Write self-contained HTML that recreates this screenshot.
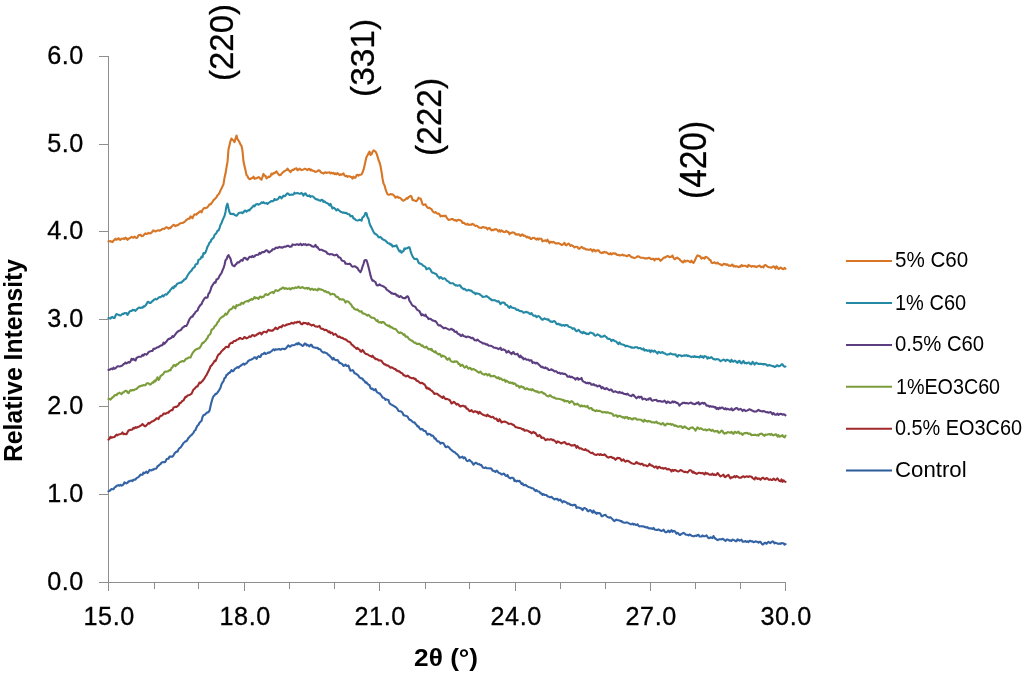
<!DOCTYPE html>
<html><head><meta charset="utf-8"><style>
html,body{margin:0;padding:0;background:#fff;}
body{width:1024px;height:673px;overflow:hidden;}
svg{display:block;will-change:transform;}
text{font-family:"Liberation Sans",sans-serif;fill:#000;stroke:#000;stroke-width:0.3px;}
</style></head><body>
<svg width="1024" height="673" viewBox="0 0 1024 673">
<rect width="1024" height="673" fill="#fff"/>
<g stroke="#8e8e8e" stroke-width="1" fill="none" shape-rendering="crispEdges">
<line x1="108.5" y1="56.5" x2="108.5" y2="590.5"/>
<line x1="98.5" y1="582.5" x2="786.0" y2="582.5"/>
<line x1="98.5" y1="494.5" x2="108.5" y2="494.5"/>
<line x1="98.5" y1="406.5" x2="108.5" y2="406.5"/>
<line x1="98.5" y1="319.5" x2="108.5" y2="319.5"/>
<line x1="98.5" y1="231.5" x2="108.5" y2="231.5"/>
<line x1="98.5" y1="144.5" x2="108.5" y2="144.5"/>
<line x1="98.5" y1="56.5" x2="108.5" y2="56.5"/>
<line x1="154.5" y1="582.5" x2="154.5" y2="588.5"/>
<line x1="198.5" y1="582.5" x2="198.5" y2="588.5"/>
<line x1="244.5" y1="582.5" x2="244.5" y2="590.5"/>
<line x1="289.5" y1="582.5" x2="289.5" y2="588.5"/>
<line x1="334.5" y1="582.5" x2="334.5" y2="588.5"/>
<line x1="379.5" y1="582.5" x2="379.5" y2="590.5"/>
<line x1="425.5" y1="582.5" x2="425.5" y2="588.5"/>
<line x1="469.5" y1="582.5" x2="469.5" y2="588.5"/>
<line x1="515.5" y1="582.5" x2="515.5" y2="590.5"/>
<line x1="560.5" y1="582.5" x2="560.5" y2="588.5"/>
<line x1="605.5" y1="582.5" x2="605.5" y2="588.5"/>
<line x1="650.5" y1="582.5" x2="650.5" y2="590.5"/>
<line x1="695.5" y1="582.5" x2="695.5" y2="588.5"/>
<line x1="740.5" y1="582.5" x2="740.5" y2="588.5"/>
<line x1="785.5" y1="582.5" x2="785.5" y2="590.5"/>
</g>
<g fill="none" stroke-width="2.1" stroke-linejoin="round" stroke-linecap="round">
<path d="M108.5,491.3 L109.5,490.9 L110.5,490.1 L111.5,489.0 L112.5,489.2 L113.5,489.2 L114.5,487.4 L115.5,487.1 L116.5,485.8 L117.5,485.6 L118.5,485.1 L119.5,485.7 L120.5,484.9 L121.5,485.6 L122.5,485.3 L123.5,484.2 L124.5,482.3 L125.5,483.1 L126.5,483.4 L127.5,482.9 L128.5,481.3 L129.5,481.4 L130.5,480.7 L131.5,480.5 L132.5,481.2 L133.5,479.7 L134.5,479.6 L135.5,479.6 L136.5,478.1 L137.5,477.6 L138.5,477.1 L139.5,476.1 L140.5,474.5 L141.5,474.8 L142.5,474.8 L143.5,472.5 L144.5,473.2 L145.5,472.4 L146.5,471.7 L147.5,473.0 L148.5,471.8 L149.5,469.9 L150.5,470.3 L151.5,470.4 L152.5,469.6 L153.5,469.6 L154.5,468.7 L155.5,468.7 L156.5,468.4 L157.5,466.3 L158.5,465.8 L159.5,464.7 L160.5,464.1 L161.5,462.6 L162.5,462.2 L163.5,462.0 L164.5,462.3 L165.5,461.6 L166.5,459.2 L167.5,458.7 L168.5,458.8 L169.5,456.5 L170.5,456.6 L171.5,456.5 L172.5,456.6 L173.5,455.3 L174.5,453.5 L175.5,452.3 L176.5,451.6 L177.5,451.7 L178.5,449.4 L179.5,448.2 L180.5,447.6 L181.5,446.2 L182.5,444.7 L183.5,442.9 L184.5,442.4 L185.5,441.2 L186.5,441.1 L187.5,439.6 L188.5,437.9 L189.5,437.0 L190.5,435.5 L191.5,435.3 L192.5,433.7 L193.5,432.8 L194.5,430.6 L195.5,430.1 L196.5,427.4 L197.5,425.5 L198.5,424.8 L199.5,422.7 L200.5,421.7 L201.5,421.0 L202.5,417.0 L203.5,415.2 L204.5,414.7 L205.5,414.2 L206.5,413.0 L207.5,412.4 L208.5,412.2 L209.5,410.7 L210.5,406.2 L211.5,402.1 L212.5,398.7 L213.5,396.2 L214.5,395.4 L215.5,393.8 L216.5,393.9 L217.5,392.5 L218.5,391.2 L219.5,389.4 L220.5,387.8 L221.5,384.3 L222.5,382.5 L223.5,381.2 L224.5,378.0 L225.5,377.7 L226.5,374.8 L227.5,374.7 L228.5,373.0 L229.5,373.0 L230.5,371.7 L231.5,370.0 L232.5,371.3 L233.5,371.0 L234.5,369.3 L235.5,368.4 L236.5,367.8 L237.5,367.0 L238.5,367.8 L239.5,366.4 L240.5,366.0 L241.5,365.0 L242.5,364.4 L243.5,363.7 L244.5,364.7 L245.5,363.5 L246.5,363.4 L247.5,362.0 L248.5,360.7 L249.5,360.3 L250.5,359.7 L251.5,359.5 L252.5,358.9 L253.5,358.4 L254.5,357.3 L255.5,357.6 L256.5,358.9 L257.5,357.0 L258.5,356.2 L259.5,356.9 L260.5,356.9 L261.5,354.3 L262.5,354.3 L263.5,353.6 L264.5,352.7 L265.5,354.0 L266.5,353.5 L267.5,353.1 L268.5,352.4 L269.5,352.7 L270.5,351.8 L271.5,351.4 L272.5,350.0 L273.5,349.3 L274.5,350.4 L275.5,349.3 L276.5,349.6 L277.5,349.5 L278.5,349.1 L279.5,349.1 L280.5,349.8 L281.5,349.1 L282.5,348.8 L283.5,348.8 L284.5,349.3 L285.5,348.6 L286.5,347.7 L287.5,346.3 L288.5,345.4 L289.5,346.7 L290.5,346.5 L291.5,345.4 L292.5,345.3 L293.5,345.2 L294.5,344.9 L295.5,344.5 L296.5,343.5 L297.5,344.4 L298.5,342.9 L299.5,344.2 L300.5,344.4 L301.5,345.0 L302.5,345.9 L303.5,345.6 L304.5,343.6 L305.5,343.5 L306.5,345.3 L307.5,344.7 L308.5,345.6 L309.5,346.4 L310.5,344.8 L311.5,344.7 L312.5,346.8 L313.5,347.3 L314.5,347.5 L315.5,347.9 L316.5,347.7 L317.5,347.7 L318.5,349.1 L319.5,349.1 L320.5,349.4 L321.5,351.4 L322.5,351.9 L323.5,352.6 L324.5,352.2 L325.5,352.7 L326.5,353.1 L327.5,353.9 L328.5,355.2 L329.5,355.4 L330.5,356.8 L331.5,357.8 L332.5,359.3 L333.5,357.9 L334.5,359.6 L335.5,359.9 L336.5,360.2 L337.5,359.9 L338.5,361.3 L339.5,362.9 L340.5,363.1 L341.5,363.7 L342.5,364.4 L343.5,365.9 L344.5,365.6 L345.5,364.6 L346.5,366.0 L347.5,365.7 L348.5,365.6 L349.5,368.5 L350.5,370.8 L351.5,370.5 L352.5,370.1 L353.5,371.1 L354.5,373.3 L355.5,373.5 L356.5,374.1 L357.5,374.8 L358.5,375.8 L359.5,377.3 L360.5,378.0 L361.5,378.5 L362.5,378.6 L363.5,380.4 L364.5,380.9 L365.5,382.7 L366.5,382.3 L367.5,383.8 L368.5,384.8 L369.5,385.1 L370.5,388.2 L371.5,389.0 L372.5,388.5 L373.5,389.9 L374.5,390.2 L375.5,389.0 L376.5,391.5 L377.5,392.5 L378.5,393.2 L379.5,393.2 L380.5,394.5 L381.5,395.7 L382.5,397.4 L383.5,397.7 L384.5,398.3 L385.5,399.9 L386.5,399.4 L387.5,399.8 L388.5,400.1 L389.5,403.2 L390.5,404.1 L391.5,404.7 L392.5,405.3 L393.5,405.7 L394.5,406.5 L395.5,407.0 L396.5,407.8 L397.5,409.1 L398.5,411.0 L399.5,411.2 L400.5,411.3 L401.5,411.7 L402.5,412.7 L403.5,415.2 L404.5,415.4 L405.5,415.8 L406.5,416.1 L407.5,416.5 L408.5,418.3 L409.5,419.8 L410.5,419.9 L411.5,420.7 L412.5,421.7 L413.5,422.5 L414.5,422.3 L415.5,423.9 L416.5,424.7 L417.5,426.5 L418.5,426.4 L419.5,428.1 L420.5,429.5 L421.5,428.9 L422.5,429.2 L423.5,430.5 L424.5,431.0 L425.5,431.1 L426.5,433.0 L427.5,434.7 L428.5,433.9 L429.5,434.1 L430.5,434.4 L431.5,435.8 L432.5,435.5 L433.5,436.4 L434.5,438.6 L435.5,438.3 L436.5,440.3 L437.5,441.4 L438.5,441.3 L439.5,442.2 L440.5,443.7 L441.5,442.9 L442.5,442.9 L443.5,443.2 L444.5,445.0 L445.5,447.0 L446.5,447.2 L447.5,446.4 L448.5,446.9 L449.5,448.0 L450.5,449.4 L451.5,449.9 L452.5,450.9 L453.5,451.7 L454.5,452.0 L455.5,453.0 L456.5,453.9 L457.5,454.5 L458.5,455.9 L459.5,457.6 L460.5,457.4 L461.5,457.2 L462.5,456.7 L463.5,458.3 L464.5,457.4 L465.5,458.3 L466.5,460.6 L467.5,461.1 L468.5,460.6 L469.5,459.9 L470.5,461.1 L471.5,461.6 L472.5,463.2 L473.5,464.7 L474.5,463.6 L475.5,462.8 L476.5,462.9 L477.5,464.0 L478.5,464.3 L479.5,464.1 L480.5,465.2 L481.5,465.1 L482.5,467.1 L483.5,467.8 L484.5,468.0 L485.5,467.3 L486.5,468.2 L487.5,468.2 L488.5,468.3 L489.5,468.5 L490.5,468.2 L491.5,468.7 L492.5,470.6 L493.5,470.7 L494.5,471.3 L495.5,472.0 L496.5,470.5 L497.5,471.4 L498.5,472.7 L499.5,473.3 L500.5,473.3 L501.5,474.5 L502.5,474.3 L503.5,473.5 L504.5,474.1 L505.5,475.8 L506.5,475.9 L507.5,474.9 L508.5,477.3 L509.5,477.8 L510.5,478.4 L511.5,477.7 L512.5,477.8 L513.5,478.2 L514.5,481.1 L515.5,480.3 L516.5,481.5 L517.5,480.7 L518.5,481.3 L519.5,480.8 L520.5,482.3 L521.5,483.9 L522.5,483.3 L523.5,485.2 L524.5,485.3 L525.5,484.8 L526.5,485.6 L527.5,486.3 L528.5,487.0 L529.5,487.2 L530.5,487.5 L531.5,488.2 L532.5,488.2 L533.5,488.6 L534.5,490.1 L535.5,491.1 L536.5,490.1 L537.5,491.3 L538.5,491.5 L539.5,491.8 L540.5,493.5 L541.5,493.4 L542.5,494.9 L543.5,494.0 L544.5,494.9 L545.5,495.0 L546.5,495.1 L547.5,496.4 L548.5,496.5 L549.5,497.3 L550.5,497.2 L551.5,496.8 L552.5,497.9 L553.5,498.7 L554.5,499.5 L555.5,498.7 L556.5,499.3 L557.5,498.8 L558.5,500.5 L559.5,499.8 L560.5,499.6 L561.5,501.4 L562.5,502.5 L563.5,501.1 L564.5,501.5 L565.5,502.1 L566.5,502.4 L567.5,503.7 L568.5,503.4 L569.5,503.8 L570.5,505.0 L571.5,504.7 L572.5,505.5 L573.5,504.9 L574.5,504.8 L575.5,505.1 L576.5,507.9 L577.5,507.2 L578.5,507.6 L579.5,507.8 L580.5,508.3 L581.5,508.8 L582.5,510.1 L583.5,508.4 L584.5,508.0 L585.5,508.6 L586.5,509.0 L587.5,510.9 L588.5,511.4 L589.5,510.3 L590.5,510.1 L591.5,511.5 L592.5,512.7 L593.5,510.5 L594.5,512.5 L595.5,512.4 L596.5,513.8 L597.5,512.9 L598.5,513.4 L599.5,513.0 L600.5,513.9 L601.5,516.1 L602.5,516.1 L603.5,515.4 L604.5,515.0 L605.5,514.8 L606.5,516.2 L607.5,517.0 L608.5,517.4 L609.5,517.6 L610.5,517.3 L611.5,518.3 L612.5,519.1 L613.5,520.5 L614.5,521.2 L615.5,520.0 L616.5,519.6 L617.5,520.3 L618.5,520.3 L619.5,520.5 L620.5,521.1 L621.5,521.0 L622.5,522.3 L623.5,522.4 L624.5,522.7 L625.5,522.7 L626.5,522.4 L627.5,522.5 L628.5,523.3 L629.5,523.5 L630.5,524.3 L631.5,524.3 L632.5,523.6 L633.5,524.6 L634.5,524.0 L635.5,524.7 L636.5,525.0 L637.5,524.2 L638.5,525.8 L639.5,526.4 L640.5,526.3 L641.5,526.3 L642.5,526.4 L643.5,526.3 L644.5,526.9 L645.5,527.1 L646.5,527.6 L647.5,527.1 L648.5,528.2 L649.5,528.4 L650.5,528.4 L651.5,528.4 L652.5,529.0 L653.5,527.9 L654.5,529.4 L655.5,529.7 L656.5,529.9 L657.5,530.0 L658.5,529.4 L659.5,529.9 L660.5,530.8 L661.5,530.9 L662.5,530.6 L663.5,529.7 L664.5,531.2 L665.5,532.2 L666.5,532.2 L667.5,531.4 L668.5,530.5 L669.5,532.1 L670.5,531.5 L671.5,530.0 L672.5,531.8 L673.5,531.0 L674.5,531.1 L675.5,532.1 L676.5,533.6 L677.5,532.9 L678.5,533.5 L679.5,534.9 L680.5,534.9 L681.5,533.7 L682.5,533.4 L683.5,532.8 L684.5,533.4 L685.5,534.5 L686.5,534.8 L687.5,534.8 L688.5,535.4 L689.5,534.4 L690.5,534.9 L691.5,535.8 L692.5,536.0 L693.5,536.4 L694.5,536.0 L695.5,535.6 L696.5,536.0 L697.5,535.0 L698.5,534.8 L699.5,536.5 L700.5,536.5 L701.5,536.5 L702.5,535.4 L703.5,536.2 L704.5,536.3 L705.5,536.0 L706.5,535.3 L707.5,536.9 L708.5,538.2 L709.5,537.9 L710.5,537.3 L711.5,537.8 L712.5,538.1 L713.5,536.0 L714.5,537.7 L715.5,538.8 L716.5,539.2 L717.5,540.1 L718.5,539.8 L719.5,539.2 L720.5,539.2 L721.5,539.5 L722.5,538.7 L723.5,539.2 L724.5,540.2 L725.5,541.0 L726.5,539.6 L727.5,539.5 L728.5,540.0 L729.5,540.8 L730.5,540.3 L731.5,541.0 L732.5,539.5 L733.5,539.9 L734.5,540.2 L735.5,541.1 L736.5,541.1 L737.5,539.4 L738.5,539.7 L739.5,540.7 L740.5,540.1 L741.5,539.7 L742.5,541.6 L743.5,541.6 L744.5,541.5 L745.5,541.0 L746.5,541.9 L747.5,541.4 L748.5,542.1 L749.5,540.8 L750.5,540.8 L751.5,541.5 L752.5,541.2 L753.5,542.2 L754.5,542.0 L755.5,541.2 L756.5,541.8 L757.5,541.9 L758.5,542.6 L759.5,541.7 L760.5,541.9 L761.5,543.4 L762.5,544.5 L763.5,544.2 L764.5,542.8 L765.5,542.9 L766.5,543.8 L767.5,542.6 L768.5,541.9 L769.5,542.8 L770.5,543.1 L771.5,542.1 L772.5,541.4 L773.5,541.8 L774.5,543.3 L775.5,542.7 L776.5,543.1 L777.5,543.6 L778.5,543.9 L779.5,543.5 L780.5,543.9 L781.5,543.1 L782.5,543.3 L783.5,543.2 L784.5,544.7 L785.5,544.1" stroke="#3363a5"/>
<path d="M108.5,439.6 L109.5,438.8 L110.5,436.8 L111.5,437.8 L112.5,437.3 L113.5,437.2 L114.5,437.0 L115.5,435.7 L116.5,434.6 L117.5,435.3 L118.5,434.5 L119.5,434.3 L120.5,434.0 L121.5,433.6 L122.5,432.4 L123.5,434.2 L124.5,433.8 L125.5,434.1 L126.5,434.2 L127.5,432.3 L128.5,430.4 L129.5,430.3 L130.5,429.8 L131.5,429.7 L132.5,429.4 L133.5,427.8 L134.5,428.4 L135.5,427.2 L136.5,427.7 L137.5,427.3 L138.5,426.7 L139.5,426.4 L140.5,425.7 L141.5,425.1 L142.5,424.1 L143.5,425.0 L144.5,426.2 L145.5,426.1 L146.5,425.2 L147.5,424.1 L148.5,422.9 L149.5,423.7 L150.5,422.5 L151.5,421.8 L152.5,421.3 L153.5,421.0 L154.5,420.1 L155.5,419.5 L156.5,418.2 L157.5,418.2 L158.5,419.1 L159.5,417.0 L160.5,415.9 L161.5,415.8 L162.5,415.2 L163.5,413.5 L164.5,413.5 L165.5,413.9 L166.5,413.1 L167.5,412.6 L168.5,412.8 L169.5,411.1 L170.5,410.7 L171.5,410.0 L172.5,410.2 L173.5,407.5 L174.5,407.2 L175.5,406.8 L176.5,406.9 L177.5,406.2 L178.5,405.5 L179.5,403.0 L180.5,403.2 L181.5,401.9 L182.5,400.8 L183.5,400.5 L184.5,398.6 L185.5,396.9 L186.5,396.9 L187.5,395.5 L188.5,395.2 L189.5,395.0 L190.5,394.3 L191.5,393.9 L192.5,391.6 L193.5,389.5 L194.5,388.8 L195.5,387.6 L196.5,386.5 L197.5,386.4 L198.5,384.5 L199.5,382.5 L200.5,383.1 L201.5,381.9 L202.5,381.0 L203.5,379.7 L204.5,378.4 L205.5,376.4 L206.5,375.2 L207.5,372.9 L208.5,371.0 L209.5,369.1 L210.5,366.4 L211.5,365.5 L212.5,364.2 L213.5,362.9 L214.5,360.9 L215.5,361.1 L216.5,358.9 L217.5,356.2 L218.5,354.5 L219.5,354.0 L220.5,352.9 L221.5,351.3 L222.5,350.5 L223.5,349.2 L224.5,348.8 L225.5,347.2 L226.5,346.8 L227.5,347.1 L228.5,347.1 L229.5,344.2 L230.5,343.3 L231.5,342.7 L232.5,342.9 L233.5,341.3 L234.5,341.0 L235.5,340.9 L236.5,339.9 L237.5,339.5 L238.5,339.3 L239.5,338.0 L240.5,338.1 L241.5,338.8 L242.5,339.0 L243.5,338.3 L244.5,337.0 L245.5,337.6 L246.5,338.4 L247.5,338.0 L248.5,337.2 L249.5,336.4 L250.5,336.9 L251.5,335.9 L252.5,335.0 L253.5,335.2 L254.5,336.2 L255.5,335.3 L256.5,335.1 L257.5,333.8 L258.5,333.9 L259.5,332.7 L260.5,332.9 L261.5,334.4 L262.5,333.1 L263.5,331.8 L264.5,331.8 L265.5,332.1 L266.5,332.4 L267.5,330.9 L268.5,329.8 L269.5,330.4 L270.5,330.6 L271.5,330.5 L272.5,330.8 L273.5,329.7 L274.5,329.1 L275.5,327.6 L276.5,328.6 L277.5,329.2 L278.5,328.0 L279.5,327.1 L280.5,326.8 L281.5,327.3 L282.5,325.4 L283.5,325.4 L284.5,325.7 L285.5,325.5 L286.5,324.6 L287.5,324.6 L288.5,324.1 L289.5,324.1 L290.5,323.6 L291.5,322.8 L292.5,323.3 L293.5,323.6 L294.5,322.3 L295.5,322.5 L296.5,322.8 L297.5,321.7 L298.5,322.1 L299.5,321.6 L300.5,323.2 L301.5,324.3 L302.5,324.1 L303.5,322.7 L304.5,323.1 L305.5,323.0 L306.5,323.4 L307.5,324.3 L308.5,323.0 L309.5,324.5 L310.5,324.5 L311.5,325.6 L312.5,325.1 L313.5,324.8 L314.5,325.8 L315.5,326.5 L316.5,326.5 L317.5,326.9 L318.5,326.4 L319.5,325.9 L320.5,328.2 L321.5,328.8 L322.5,328.8 L323.5,329.3 L324.5,330.2 L325.5,329.8 L326.5,330.0 L327.5,331.0 L328.5,332.2 L329.5,331.4 L330.5,333.2 L331.5,332.6 L332.5,332.9 L333.5,334.8 L334.5,334.4 L335.5,333.9 L336.5,335.0 L337.5,336.5 L338.5,337.0 L339.5,336.5 L340.5,337.4 L341.5,338.0 L342.5,337.8 L343.5,338.8 L344.5,339.2 L345.5,339.4 L346.5,340.0 L347.5,341.1 L348.5,341.7 L349.5,341.9 L350.5,342.8 L351.5,344.5 L352.5,345.0 L353.5,346.1 L354.5,347.1 L355.5,347.6 L356.5,349.0 L357.5,347.9 L358.5,349.1 L359.5,349.5 L360.5,351.4 L361.5,351.7 L362.5,349.9 L363.5,350.9 L364.5,352.8 L365.5,353.7 L366.5,354.1 L367.5,354.2 L368.5,355.0 L369.5,355.7 L370.5,356.0 L371.5,356.8 L372.5,355.6 L373.5,357.5 L374.5,357.6 L375.5,359.2 L376.5,359.1 L377.5,359.2 L378.5,360.4 L379.5,360.2 L380.5,360.5 L381.5,360.8 L382.5,362.4 L383.5,363.6 L384.5,364.4 L385.5,364.4 L386.5,365.5 L387.5,365.4 L388.5,365.8 L389.5,366.9 L390.5,367.7 L391.5,367.3 L392.5,367.7 L393.5,368.4 L394.5,369.0 L395.5,369.1 L396.5,370.7 L397.5,370.6 L398.5,371.4 L399.5,371.3 L400.5,372.5 L401.5,373.1 L402.5,373.4 L403.5,375.3 L404.5,375.2 L405.5,376.4 L406.5,376.3 L407.5,375.6 L408.5,376.2 L409.5,377.3 L410.5,377.7 L411.5,378.1 L412.5,378.2 L413.5,377.9 L414.5,379.1 L415.5,378.8 L416.5,380.8 L417.5,380.9 L418.5,381.5 L419.5,382.5 L420.5,383.3 L421.5,382.8 L422.5,383.1 L423.5,384.1 L424.5,384.3 L425.5,386.0 L426.5,388.3 L427.5,387.7 L428.5,389.0 L429.5,388.6 L430.5,390.1 L431.5,390.6 L432.5,391.4 L433.5,392.7 L434.5,394.0 L435.5,393.6 L436.5,393.8 L437.5,393.8 L438.5,395.2 L439.5,395.5 L440.5,396.6 L441.5,396.9 L442.5,398.0 L443.5,396.4 L444.5,397.8 L445.5,399.2 L446.5,398.9 L447.5,399.0 L448.5,399.7 L449.5,399.7 L450.5,401.4 L451.5,403.5 L452.5,403.1 L453.5,401.8 L454.5,402.2 L455.5,403.3 L456.5,404.6 L457.5,403.9 L458.5,404.4 L459.5,406.0 L460.5,406.5 L461.5,406.0 L462.5,405.7 L463.5,405.8 L464.5,406.6 L465.5,406.4 L466.5,408.6 L467.5,408.6 L468.5,409.8 L469.5,411.2 L470.5,411.0 L471.5,410.0 L472.5,411.5 L473.5,412.2 L474.5,411.2 L475.5,411.3 L476.5,412.1 L477.5,411.9 L478.5,413.7 L479.5,411.9 L480.5,412.8 L481.5,413.9 L482.5,414.4 L483.5,415.0 L484.5,415.4 L485.5,415.5 L486.5,416.2 L487.5,414.7 L488.5,415.9 L489.5,416.1 L490.5,416.9 L491.5,417.2 L492.5,416.8 L493.5,417.3 L494.5,418.6 L495.5,418.7 L496.5,418.6 L497.5,420.8 L498.5,421.2 L499.5,419.2 L500.5,420.6 L501.5,422.5 L502.5,421.9 L503.5,421.7 L504.5,421.6 L505.5,421.8 L506.5,422.4 L507.5,422.8 L508.5,423.9 L509.5,423.7 L510.5,423.8 L511.5,423.8 L512.5,424.8 L513.5,424.9 L514.5,425.8 L515.5,427.1 L516.5,427.2 L517.5,427.6 L518.5,427.9 L519.5,428.0 L520.5,428.2 L521.5,428.6 L522.5,429.5 L523.5,429.1 L524.5,430.8 L525.5,430.5 L526.5,430.2 L527.5,430.6 L528.5,431.1 L529.5,431.9 L530.5,432.1 L531.5,433.4 L532.5,432.5 L533.5,431.8 L534.5,433.0 L535.5,432.9 L536.5,434.7 L537.5,436.1 L538.5,436.1 L539.5,435.1 L540.5,436.0 L541.5,438.0 L542.5,437.6 L543.5,437.7 L544.5,438.9 L545.5,440.2 L546.5,439.8 L547.5,439.1 L548.5,439.5 L549.5,439.8 L550.5,439.2 L551.5,439.2 L552.5,440.1 L553.5,439.9 L554.5,440.7 L555.5,441.5 L556.5,443.0 L557.5,441.4 L558.5,441.8 L559.5,442.2 L560.5,443.0 L561.5,443.5 L562.5,442.7 L563.5,442.4 L564.5,442.1 L565.5,442.9 L566.5,444.2 L567.5,444.2 L568.5,443.7 L569.5,444.3 L570.5,445.0 L571.5,445.6 L572.5,445.2 L573.5,445.4 L574.5,444.8 L575.5,445.8 L576.5,447.8 L577.5,446.1 L578.5,447.5 L579.5,448.5 L580.5,448.4 L581.5,448.5 L582.5,449.4 L583.5,449.8 L584.5,449.9 L585.5,449.2 L586.5,450.4 L587.5,450.5 L588.5,451.0 L589.5,452.0 L590.5,452.7 L591.5,453.1 L592.5,452.6 L593.5,453.8 L594.5,454.4 L595.5,454.7 L596.5,455.0 L597.5,454.2 L598.5,454.3 L599.5,455.0 L600.5,454.0 L601.5,455.0 L602.5,455.0 L603.5,455.0 L604.5,454.4 L605.5,455.2 L606.5,456.3 L607.5,457.3 L608.5,457.6 L609.5,457.0 L610.5,457.0 L611.5,456.9 L612.5,457.9 L613.5,457.9 L614.5,458.8 L615.5,459.8 L616.5,458.7 L617.5,457.7 L618.5,458.2 L619.5,458.1 L620.5,458.8 L621.5,460.7 L622.5,460.3 L623.5,459.4 L624.5,461.0 L625.5,461.7 L626.5,460.9 L627.5,460.7 L628.5,461.2 L629.5,461.9 L630.5,462.5 L631.5,463.2 L632.5,463.5 L633.5,463.7 L634.5,463.9 L635.5,463.3 L636.5,462.0 L637.5,463.0 L638.5,463.6 L639.5,463.5 L640.5,464.4 L641.5,463.8 L642.5,463.7 L643.5,465.4 L644.5,465.3 L645.5,465.2 L646.5,465.9 L647.5,466.2 L648.5,465.5 L649.5,463.9 L650.5,465.0 L651.5,465.6 L652.5,465.6 L653.5,466.7 L654.5,467.5 L655.5,466.6 L656.5,466.5 L657.5,468.5 L658.5,467.3 L659.5,466.8 L660.5,467.9 L661.5,468.3 L662.5,467.9 L663.5,468.8 L664.5,468.2 L665.5,468.0 L666.5,469.0 L667.5,469.5 L668.5,468.9 L669.5,469.5 L670.5,469.9 L671.5,471.5 L672.5,469.8 L673.5,470.8 L674.5,470.1 L675.5,470.1 L676.5,470.8 L677.5,471.2 L678.5,471.5 L679.5,470.8 L680.5,470.1 L681.5,470.3 L682.5,471.1 L683.5,471.5 L684.5,472.1 L685.5,471.7 L686.5,472.1 L687.5,472.5 L688.5,471.4 L689.5,470.2 L690.5,470.3 L691.5,470.7 L692.5,472.6 L693.5,471.7 L694.5,473.0 L695.5,473.1 L696.5,473.9 L697.5,473.5 L698.5,472.8 L699.5,472.7 L700.5,473.1 L701.5,473.2 L702.5,472.9 L703.5,473.6 L704.5,474.5 L705.5,472.7 L706.5,473.6 L707.5,473.3 L708.5,474.1 L709.5,474.7 L710.5,474.4 L711.5,474.7 L712.5,473.6 L713.5,475.0 L714.5,474.4 L715.5,475.1 L716.5,474.7 L717.5,473.0 L718.5,474.2 L719.5,475.4 L720.5,476.4 L721.5,475.8 L722.5,475.4 L723.5,474.7 L724.5,476.7 L725.5,477.2 L726.5,476.0 L727.5,475.5 L728.5,474.9 L729.5,476.9 L730.5,478.3 L731.5,477.3 L732.5,477.5 L733.5,476.9 L734.5,476.1 L735.5,477.3 L736.5,476.0 L737.5,476.6 L738.5,477.2 L739.5,477.7 L740.5,477.6 L741.5,477.4 L742.5,476.6 L743.5,476.3 L744.5,477.2 L745.5,476.8 L746.5,476.4 L747.5,476.5 L748.5,477.0 L749.5,476.3 L750.5,476.5 L751.5,476.7 L752.5,478.0 L753.5,478.7 L754.5,479.5 L755.5,477.4 L756.5,477.8 L757.5,479.0 L758.5,478.5 L759.5,478.6 L760.5,479.8 L761.5,478.6 L762.5,477.8 L763.5,477.9 L764.5,479.1 L765.5,479.1 L766.5,478.1 L767.5,478.4 L768.5,479.6 L769.5,479.8 L770.5,479.2 L771.5,480.0 L772.5,479.9 L773.5,478.5 L774.5,479.4 L775.5,480.1 L776.5,479.3 L777.5,478.4 L778.5,479.8 L779.5,481.0 L780.5,481.3 L781.5,479.4 L782.5,481.9 L783.5,480.3 L784.5,481.4 L785.5,481.9" stroke="#a0292b"/>
<path d="M108.5,399.0 L109.5,398.8 L110.5,399.6 L111.5,398.6 L112.5,397.2 L113.5,397.1 L114.5,395.3 L115.5,395.1 L116.5,395.3 L117.5,393.6 L118.5,393.5 L119.5,392.7 L120.5,393.5 L121.5,394.2 L122.5,392.5 L123.5,392.4 L124.5,391.4 L125.5,390.8 L126.5,390.8 L127.5,392.6 L128.5,393.1 L129.5,391.4 L130.5,390.1 L131.5,390.6 L132.5,389.9 L133.5,390.2 L134.5,389.7 L135.5,389.3 L136.5,389.0 L137.5,387.8 L138.5,387.2 L139.5,386.1 L140.5,386.3 L141.5,385.5 L142.5,385.7 L143.5,385.0 L144.5,385.3 L145.5,385.1 L146.5,383.5 L147.5,383.3 L148.5,383.2 L149.5,384.2 L150.5,384.6 L151.5,383.5 L152.5,382.4 L153.5,382.6 L154.5,380.5 L155.5,381.4 L156.5,379.2 L157.5,377.3 L158.5,380.0 L159.5,378.7 L160.5,376.0 L161.5,375.5 L162.5,374.6 L163.5,373.7 L164.5,371.9 L165.5,371.6 L166.5,371.8 L167.5,371.2 L168.5,371.1 L169.5,370.0 L170.5,370.4 L171.5,367.9 L172.5,367.3 L173.5,365.3 L174.5,365.1 L175.5,366.2 L176.5,364.4 L177.5,364.5 L178.5,363.5 L179.5,362.2 L180.5,362.0 L181.5,361.4 L182.5,361.0 L183.5,361.5 L184.5,360.9 L185.5,359.4 L186.5,358.5 L187.5,358.5 L188.5,357.6 L189.5,357.5 L190.5,357.5 L191.5,355.2 L192.5,353.2 L193.5,351.9 L194.5,350.6 L195.5,349.7 L196.5,349.1 L197.5,348.9 L198.5,348.4 L199.5,348.2 L200.5,346.5 L201.5,344.8 L202.5,342.7 L203.5,343.0 L204.5,341.5 L205.5,340.8 L206.5,339.1 L207.5,338.0 L208.5,335.5 L209.5,334.7 L210.5,333.8 L211.5,329.7 L212.5,329.3 L213.5,328.5 L214.5,326.6 L215.5,325.6 L216.5,324.7 L217.5,322.4 L218.5,321.5 L219.5,319.4 L220.5,318.2 L221.5,317.3 L222.5,316.7 L223.5,316.2 L224.5,315.3 L225.5,313.5 L226.5,314.7 L227.5,313.3 L228.5,311.6 L229.5,309.9 L230.5,309.3 L231.5,309.1 L232.5,308.1 L233.5,306.3 L234.5,307.6 L235.5,308.3 L236.5,305.0 L237.5,305.8 L238.5,305.2 L239.5,304.5 L240.5,304.7 L241.5,302.8 L242.5,303.2 L243.5,303.7 L244.5,302.2 L245.5,301.5 L246.5,301.3 L247.5,300.9 L248.5,301.5 L249.5,299.8 L250.5,300.2 L251.5,298.8 L252.5,299.6 L253.5,298.8 L254.5,297.0 L255.5,298.3 L256.5,297.8 L257.5,298.1 L258.5,299.0 L259.5,296.9 L260.5,296.5 L261.5,297.7 L262.5,296.8 L263.5,297.0 L264.5,295.6 L265.5,294.2 L266.5,294.4 L267.5,295.0 L268.5,294.5 L269.5,293.4 L270.5,292.9 L271.5,292.4 L272.5,292.0 L273.5,293.2 L274.5,291.6 L275.5,290.2 L276.5,290.3 L277.5,291.0 L278.5,290.6 L279.5,289.7 L280.5,288.9 L281.5,288.9 L282.5,287.5 L283.5,287.6 L284.5,288.8 L285.5,288.1 L286.5,288.5 L287.5,289.0 L288.5,288.6 L289.5,288.2 L290.5,289.5 L291.5,288.6 L292.5,287.8 L293.5,288.4 L294.5,288.2 L295.5,287.3 L296.5,287.9 L297.5,287.6 L298.5,286.5 L299.5,287.7 L300.5,287.9 L301.5,287.6 L302.5,287.0 L303.5,287.9 L304.5,288.4 L305.5,288.4 L306.5,287.9 L307.5,288.8 L308.5,287.9 L309.5,288.7 L310.5,289.8 L311.5,288.7 L312.5,288.9 L313.5,290.0 L314.5,289.3 L315.5,289.4 L316.5,290.0 L317.5,290.4 L318.5,288.5 L319.5,289.2 L320.5,289.4 L321.5,289.6 L322.5,290.0 L323.5,290.4 L324.5,291.4 L325.5,291.1 L326.5,292.0 L327.5,292.5 L328.5,292.1 L329.5,293.2 L330.5,294.6 L331.5,294.1 L332.5,293.7 L333.5,294.3 L334.5,294.3 L335.5,295.8 L336.5,297.0 L337.5,296.7 L338.5,297.9 L339.5,299.4 L340.5,299.1 L341.5,299.6 L342.5,299.3 L343.5,299.6 L344.5,300.6 L345.5,302.6 L346.5,301.4 L347.5,301.4 L348.5,301.8 L349.5,302.8 L350.5,304.1 L351.5,305.1 L352.5,307.3 L353.5,307.6 L354.5,309.1 L355.5,309.4 L356.5,309.9 L357.5,309.3 L358.5,310.6 L359.5,311.4 L360.5,311.6 L361.5,311.1 L362.5,313.4 L363.5,313.4 L364.5,313.7 L365.5,314.3 L366.5,314.9 L367.5,315.6 L368.5,314.9 L369.5,315.6 L370.5,317.0 L371.5,317.6 L372.5,317.7 L373.5,317.9 L374.5,318.3 L375.5,319.6 L376.5,320.8 L377.5,320.2 L378.5,322.2 L379.5,322.4 L380.5,322.0 L381.5,323.0 L382.5,322.0 L383.5,322.1 L384.5,323.0 L385.5,324.3 L386.5,325.0 L387.5,325.5 L388.5,326.1 L389.5,325.5 L390.5,327.4 L391.5,327.0 L392.5,327.9 L393.5,328.6 L394.5,328.7 L395.5,329.0 L396.5,330.0 L397.5,331.4 L398.5,332.5 L399.5,333.0 L400.5,332.4 L401.5,332.9 L402.5,333.6 L403.5,334.9 L404.5,334.3 L405.5,336.7 L406.5,336.5 L407.5,336.8 L408.5,338.3 L409.5,339.5 L410.5,339.8 L411.5,340.7 L412.5,340.9 L413.5,342.2 L414.5,342.8 L415.5,342.6 L416.5,343.9 L417.5,343.8 L418.5,343.9 L419.5,343.8 L420.5,344.8 L421.5,345.9 L422.5,345.3 L423.5,346.9 L424.5,347.4 L425.5,347.5 L426.5,346.5 L427.5,348.2 L428.5,349.4 L429.5,349.0 L430.5,349.6 L431.5,348.8 L432.5,351.0 L433.5,351.2 L434.5,352.2 L435.5,351.3 L436.5,353.2 L437.5,353.5 L438.5,354.4 L439.5,353.8 L440.5,354.7 L441.5,356.9 L442.5,355.6 L443.5,355.9 L444.5,356.6 L445.5,356.9 L446.5,359.0 L447.5,359.8 L448.5,358.5 L449.5,358.3 L450.5,360.7 L451.5,361.5 L452.5,361.7 L453.5,362.1 L454.5,361.2 L455.5,361.7 L456.5,361.4 L457.5,362.0 L458.5,363.9 L459.5,363.9 L460.5,366.0 L461.5,365.1 L462.5,364.9 L463.5,366.4 L464.5,367.6 L465.5,366.9 L466.5,366.1 L467.5,367.6 L468.5,368.7 L469.5,367.9 L470.5,368.1 L471.5,369.6 L472.5,369.4 L473.5,368.9 L474.5,369.6 L475.5,370.0 L476.5,371.0 L477.5,371.6 L478.5,372.6 L479.5,372.5 L480.5,371.5 L481.5,373.0 L482.5,374.0 L483.5,374.2 L484.5,374.7 L485.5,373.9 L486.5,374.0 L487.5,375.4 L488.5,374.4 L489.5,374.2 L490.5,376.4 L491.5,376.0 L492.5,376.3 L493.5,375.9 L494.5,376.1 L495.5,376.7 L496.5,377.8 L497.5,378.3 L498.5,377.2 L499.5,379.1 L500.5,378.4 L501.5,378.8 L502.5,380.2 L503.5,380.0 L504.5,379.6 L505.5,381.8 L506.5,380.7 L507.5,381.4 L508.5,382.0 L509.5,383.0 L510.5,382.3 L511.5,383.2 L512.5,382.7 L513.5,384.0 L514.5,383.3 L515.5,384.0 L516.5,385.9 L517.5,385.5 L518.5,385.9 L519.5,387.6 L520.5,386.8 L521.5,386.3 L522.5,387.4 L523.5,387.0 L524.5,388.8 L525.5,389.3 L526.5,388.4 L527.5,388.6 L528.5,389.4 L529.5,389.6 L530.5,389.4 L531.5,390.3 L532.5,389.2 L533.5,390.3 L534.5,390.8 L535.5,391.3 L536.5,391.8 L537.5,391.3 L538.5,392.6 L539.5,392.5 L540.5,392.2 L541.5,391.9 L542.5,392.5 L543.5,393.7 L544.5,393.4 L545.5,394.4 L546.5,395.6 L547.5,396.1 L548.5,396.5 L549.5,395.4 L550.5,395.2 L551.5,396.8 L552.5,397.0 L553.5,397.7 L554.5,397.4 L555.5,398.4 L556.5,398.6 L557.5,398.7 L558.5,398.8 L559.5,399.0 L560.5,399.2 L561.5,399.5 L562.5,400.2 L563.5,399.8 L564.5,401.3 L565.5,400.7 L566.5,401.4 L567.5,401.0 L568.5,401.4 L569.5,403.0 L570.5,401.8 L571.5,401.1 L572.5,401.8 L573.5,402.8 L574.5,404.7 L575.5,404.0 L576.5,404.4 L577.5,403.6 L578.5,404.7 L579.5,405.6 L580.5,406.5 L581.5,405.3 L582.5,406.2 L583.5,406.3 L584.5,405.8 L585.5,406.7 L586.5,406.7 L587.5,405.9 L588.5,408.0 L589.5,408.6 L590.5,408.1 L591.5,408.0 L592.5,410.0 L593.5,409.9 L594.5,410.7 L595.5,411.1 L596.5,410.2 L597.5,411.0 L598.5,410.7 L599.5,410.9 L600.5,411.2 L601.5,411.6 L602.5,412.5 L603.5,412.2 L604.5,412.0 L605.5,412.2 L606.5,412.7 L607.5,412.2 L608.5,412.6 L609.5,413.1 L610.5,413.1 L611.5,413.5 L612.5,413.8 L613.5,415.8 L614.5,415.8 L615.5,415.2 L616.5,415.3 L617.5,416.9 L618.5,416.0 L619.5,415.7 L620.5,416.2 L621.5,416.6 L622.5,417.5 L623.5,417.1 L624.5,418.3 L625.5,416.9 L626.5,417.6 L627.5,417.2 L628.5,418.9 L629.5,418.0 L630.5,418.3 L631.5,419.3 L632.5,419.5 L633.5,418.2 L634.5,418.5 L635.5,418.2 L636.5,419.4 L637.5,419.6 L638.5,419.5 L639.5,419.5 L640.5,419.8 L641.5,419.9 L642.5,421.1 L643.5,421.7 L644.5,419.7 L645.5,420.7 L646.5,421.0 L647.5,421.6 L648.5,420.9 L649.5,421.4 L650.5,421.2 L651.5,422.4 L652.5,422.3 L653.5,422.3 L654.5,422.7 L655.5,422.3 L656.5,421.7 L657.5,423.2 L658.5,423.3 L659.5,423.3 L660.5,424.3 L661.5,424.4 L662.5,423.0 L663.5,423.4 L664.5,425.3 L665.5,425.4 L666.5,423.9 L667.5,423.5 L668.5,424.0 L669.5,424.2 L670.5,423.8 L671.5,424.8 L672.5,424.2 L673.5,424.6 L674.5,426.0 L675.5,425.4 L676.5,425.9 L677.5,426.6 L678.5,426.8 L679.5,426.2 L680.5,426.4 L681.5,426.3 L682.5,428.0 L683.5,427.5 L684.5,426.3 L685.5,427.1 L686.5,427.9 L687.5,428.2 L688.5,429.2 L689.5,428.9 L690.5,427.7 L691.5,427.7 L692.5,427.3 L693.5,428.3 L694.5,429.0 L695.5,430.6 L696.5,428.9 L697.5,427.3 L698.5,428.3 L699.5,429.0 L700.5,428.3 L701.5,428.6 L702.5,429.3 L703.5,429.9 L704.5,429.7 L705.5,429.4 L706.5,430.5 L707.5,429.9 L708.5,429.8 L709.5,429.3 L710.5,430.0 L711.5,430.9 L712.5,429.8 L713.5,430.9 L714.5,431.6 L715.5,431.1 L716.5,431.4 L717.5,430.9 L718.5,432.6 L719.5,432.7 L720.5,431.9 L721.5,430.5 L722.5,431.1 L723.5,432.9 L724.5,433.6 L725.5,432.9 L726.5,433.2 L727.5,432.1 L728.5,432.2 L729.5,432.6 L730.5,432.7 L731.5,431.8 L732.5,433.4 L733.5,433.8 L734.5,432.1 L735.5,431.9 L736.5,433.0 L737.5,432.3 L738.5,431.5 L739.5,433.5 L740.5,433.5 L741.5,433.3 L742.5,434.9 L743.5,433.8 L744.5,433.0 L745.5,433.4 L746.5,432.8 L747.5,433.1 L748.5,433.9 L749.5,433.5 L750.5,433.8 L751.5,435.3 L752.5,435.0 L753.5,434.9 L754.5,434.7 L755.5,434.9 L756.5,435.4 L757.5,434.8 L758.5,435.6 L759.5,434.0 L760.5,434.0 L761.5,433.5 L762.5,434.2 L763.5,435.2 L764.5,435.8 L765.5,434.5 L766.5,434.7 L767.5,434.6 L768.5,434.2 L769.5,434.1 L770.5,434.8 L771.5,433.9 L772.5,435.1 L773.5,435.3 L774.5,434.8 L775.5,434.4 L776.5,434.6 L777.5,436.6 L778.5,435.2 L779.5,436.8 L780.5,436.4 L781.5,435.6 L782.5,435.2 L783.5,436.9 L784.5,437.4 L785.5,435.7" stroke="#7a9c3a"/>
<path d="M108.5,369.9 L109.5,369.7 L110.5,369.3 L111.5,368.5 L112.5,369.3 L113.5,367.7 L114.5,368.8 L115.5,368.4 L116.5,367.2 L117.5,366.3 L118.5,366.3 L119.5,366.5 L120.5,366.3 L121.5,365.7 L122.5,365.5 L123.5,364.1 L124.5,363.8 L125.5,362.5 L126.5,363.4 L127.5,362.8 L128.5,362.0 L129.5,362.6 L130.5,361.5 L131.5,358.8 L132.5,359.7 L133.5,358.8 L134.5,360.1 L135.5,360.5 L136.5,358.0 L137.5,357.4 L138.5,356.8 L139.5,356.7 L140.5,356.7 L141.5,356.4 L142.5,354.9 L143.5,355.7 L144.5,354.0 L145.5,354.3 L146.5,354.6 L147.5,353.8 L148.5,352.1 L149.5,351.6 L150.5,351.2 L151.5,351.0 L152.5,350.9 L153.5,348.8 L154.5,348.9 L155.5,348.5 L156.5,347.8 L157.5,347.2 L158.5,347.2 L159.5,346.2 L160.5,345.8 L161.5,345.3 L162.5,345.2 L163.5,342.7 L164.5,343.8 L165.5,342.5 L166.5,341.5 L167.5,340.2 L168.5,338.9 L169.5,338.9 L170.5,338.2 L171.5,337.8 L172.5,336.1 L173.5,336.9 L174.5,335.5 L175.5,334.1 L176.5,332.8 L177.5,331.9 L178.5,331.0 L179.5,330.6 L180.5,330.3 L181.5,329.2 L182.5,327.6 L183.5,327.3 L184.5,326.1 L185.5,326.0 L186.5,325.9 L187.5,323.9 L188.5,321.5 L189.5,319.1 L190.5,317.8 L191.5,316.6 L192.5,316.8 L193.5,314.8 L194.5,313.7 L195.5,312.0 L196.5,311.2 L197.5,310.6 L198.5,307.9 L199.5,306.3 L200.5,304.8 L201.5,304.3 L202.5,301.7 L203.5,300.0 L204.5,298.5 L205.5,297.4 L206.5,297.7 L207.5,297.5 L208.5,293.8 L209.5,292.7 L210.5,290.1 L211.5,286.9 L212.5,285.3 L213.5,283.7 L214.5,282.4 L215.5,282.6 L216.5,279.4 L217.5,279.3 L218.5,278.1 L219.5,275.8 L220.5,274.5 L221.5,273.0 L222.5,270.4 L223.5,268.1 L224.5,265.0 L225.5,260.3 L226.5,259.3 L227.5,256.4 L228.5,255.0 L229.5,257.1 L230.5,258.6 L231.5,262.9 L232.5,265.4 L233.5,265.8 L234.5,266.2 L235.5,264.6 L236.5,263.9 L237.5,262.3 L238.5,262.6 L239.5,262.0 L240.5,260.6 L241.5,260.0 L242.5,260.8 L243.5,258.5 L244.5,257.9 L245.5,258.0 L246.5,259.3 L247.5,259.7 L248.5,258.1 L249.5,256.8 L250.5,256.7 L251.5,257.2 L252.5,255.9 L253.5,256.9 L254.5,256.5 L255.5,255.2 L256.5,255.0 L257.5,254.8 L258.5,254.7 L259.5,252.9 L260.5,253.7 L261.5,252.6 L262.5,252.0 L263.5,252.3 L264.5,251.8 L265.5,250.9 L266.5,250.2 L267.5,250.6 L268.5,252.2 L269.5,252.4 L270.5,251.3 L271.5,250.9 L272.5,249.4 L273.5,249.2 L274.5,249.1 L275.5,247.8 L276.5,247.6 L277.5,248.0 L278.5,247.5 L279.5,246.8 L280.5,247.5 L281.5,247.2 L282.5,247.8 L283.5,247.0 L284.5,246.6 L285.5,246.7 L286.5,246.3 L287.5,245.8 L288.5,245.9 L289.5,246.6 L290.5,246.6 L291.5,246.5 L292.5,244.4 L293.5,244.7 L294.5,244.8 L295.5,244.9 L296.5,244.4 L297.5,244.3 L298.5,245.0 L299.5,244.5 L300.5,243.7 L301.5,245.2 L302.5,245.0 L303.5,244.1 L304.5,244.7 L305.5,244.1 L306.5,245.2 L307.5,244.7 L308.5,244.4 L309.5,244.8 L310.5,245.1 L311.5,246.0 L312.5,246.5 L313.5,246.7 L314.5,246.2 L315.5,244.8 L316.5,247.2 L317.5,246.9 L318.5,248.7 L319.5,249.9 L320.5,249.7 L321.5,249.7 L322.5,250.3 L323.5,250.8 L324.5,251.1 L325.5,251.5 L326.5,252.1 L327.5,253.8 L328.5,253.8 L329.5,254.5 L330.5,254.1 L331.5,254.3 L332.5,254.4 L333.5,255.0 L334.5,255.4 L335.5,255.1 L336.5,254.6 L337.5,255.3 L338.5,257.4 L339.5,257.2 L340.5,258.0 L341.5,260.1 L342.5,260.8 L343.5,261.0 L344.5,261.4 L345.5,263.8 L346.5,263.6 L347.5,264.0 L348.5,264.0 L349.5,263.6 L350.5,264.3 L351.5,266.0 L352.5,266.7 L353.5,266.5 L354.5,266.2 L355.5,266.5 L356.5,267.7 L357.5,267.9 L358.5,270.0 L359.5,271.1 L360.5,272.2 L361.5,269.9 L362.5,266.7 L363.5,264.0 L364.5,260.4 L365.5,260.0 L366.5,260.2 L367.5,263.3 L368.5,267.1 L369.5,270.9 L370.5,275.4 L371.5,278.8 L372.5,280.7 L373.5,280.5 L374.5,281.5 L375.5,282.2 L376.5,284.9 L377.5,285.5 L378.5,285.3 L379.5,284.4 L380.5,285.3 L381.5,285.6 L382.5,286.0 L383.5,286.4 L384.5,287.2 L385.5,287.6 L386.5,289.4 L387.5,290.2 L388.5,290.8 L389.5,291.7 L390.5,292.2 L391.5,293.5 L392.5,293.4 L393.5,294.0 L394.5,293.9 L395.5,293.8 L396.5,295.6 L397.5,295.2 L398.5,296.7 L399.5,296.9 L400.5,296.0 L401.5,296.8 L402.5,297.7 L403.5,298.1 L404.5,298.0 L405.5,298.2 L406.5,296.6 L407.5,296.2 L408.5,297.5 L409.5,300.9 L410.5,302.2 L411.5,304.0 L412.5,305.5 L413.5,306.0 L414.5,306.4 L415.5,307.1 L416.5,308.9 L417.5,310.1 L418.5,310.5 L419.5,311.2 L420.5,313.2 L421.5,315.3 L422.5,314.4 L423.5,315.3 L424.5,315.7 L425.5,314.6 L426.5,316.7 L427.5,317.3 L428.5,319.1 L429.5,318.7 L430.5,318.7 L431.5,319.6 L432.5,320.4 L433.5,320.6 L434.5,321.2 L435.5,321.1 L436.5,322.4 L437.5,324.0 L438.5,325.4 L439.5,325.2 L440.5,325.4 L441.5,326.5 L442.5,327.2 L443.5,328.1 L444.5,328.1 L445.5,327.8 L446.5,328.4 L447.5,328.9 L448.5,329.4 L449.5,329.7 L450.5,329.3 L451.5,328.8 L452.5,329.9 L453.5,329.9 L454.5,331.6 L455.5,332.0 L456.5,331.5 L457.5,333.4 L458.5,334.1 L459.5,334.2 L460.5,335.7 L461.5,336.0 L462.5,334.5 L463.5,336.0 L464.5,336.3 L465.5,336.7 L466.5,337.2 L467.5,336.5 L468.5,336.8 L469.5,337.0 L470.5,337.6 L471.5,338.3 L472.5,337.8 L473.5,338.6 L474.5,340.1 L475.5,340.3 L476.5,340.6 L477.5,339.6 L478.5,340.5 L479.5,341.3 L480.5,342.0 L481.5,342.2 L482.5,343.4 L483.5,343.3 L484.5,343.5 L485.5,344.0 L486.5,344.6 L487.5,344.4 L488.5,345.7 L489.5,345.7 L490.5,345.7 L491.5,346.0 L492.5,346.7 L493.5,347.4 L494.5,347.7 L495.5,347.7 L496.5,348.2 L497.5,348.3 L498.5,349.2 L499.5,348.5 L500.5,347.7 L501.5,350.0 L502.5,349.8 L503.5,349.2 L504.5,350.0 L505.5,350.4 L506.5,352.6 L507.5,351.9 L508.5,350.9 L509.5,352.4 L510.5,352.7 L511.5,354.2 L512.5,352.6 L513.5,352.0 L514.5,353.9 L515.5,354.2 L516.5,354.3 L517.5,353.8 L518.5,355.9 L519.5,357.1 L520.5,355.5 L521.5,357.4 L522.5,357.3 L523.5,359.3 L524.5,358.7 L525.5,358.6 L526.5,359.8 L527.5,359.8 L528.5,359.6 L529.5,360.7 L530.5,360.3 L531.5,360.3 L532.5,363.0 L533.5,362.4 L534.5,362.5 L535.5,363.4 L536.5,362.8 L537.5,363.3 L538.5,364.4 L539.5,365.1 L540.5,366.2 L541.5,367.3 L542.5,366.8 L543.5,367.7 L544.5,368.1 L545.5,367.4 L546.5,368.4 L547.5,368.3 L548.5,369.9 L549.5,370.0 L550.5,369.7 L551.5,369.2 L552.5,370.3 L553.5,370.4 L554.5,371.5 L555.5,371.3 L556.5,371.3 L557.5,372.7 L558.5,373.0 L559.5,372.6 L560.5,373.8 L561.5,373.3 L562.5,373.4 L563.5,374.0 L564.5,373.7 L565.5,374.2 L566.5,375.0 L567.5,376.6 L568.5,376.8 L569.5,376.2 L570.5,377.3 L571.5,376.8 L572.5,377.3 L573.5,377.9 L574.5,378.2 L575.5,379.7 L576.5,378.5 L577.5,377.9 L578.5,379.6 L579.5,379.1 L580.5,378.9 L581.5,377.9 L582.5,380.8 L583.5,381.6 L584.5,382.0 L585.5,382.6 L586.5,383.3 L587.5,382.7 L588.5,383.4 L589.5,382.8 L590.5,383.4 L591.5,384.8 L592.5,384.7 L593.5,384.0 L594.5,385.3 L595.5,385.4 L596.5,385.4 L597.5,386.4 L598.5,386.1 L599.5,385.5 L600.5,386.4 L601.5,388.4 L602.5,387.0 L603.5,388.1 L604.5,388.9 L605.5,389.1 L606.5,388.1 L607.5,388.9 L608.5,389.7 L609.5,390.3 L610.5,389.6 L611.5,389.6 L612.5,391.4 L613.5,391.9 L614.5,391.6 L615.5,391.2 L616.5,392.0 L617.5,392.3 L618.5,392.8 L619.5,391.9 L620.5,392.8 L621.5,392.9 L622.5,392.6 L623.5,393.7 L624.5,393.9 L625.5,394.0 L626.5,394.5 L627.5,393.7 L628.5,394.7 L629.5,395.5 L630.5,395.8 L631.5,396.2 L632.5,394.9 L633.5,394.8 L634.5,396.3 L635.5,397.1 L636.5,398.3 L637.5,397.5 L638.5,396.6 L639.5,397.6 L640.5,396.7 L641.5,396.8 L642.5,399.5 L643.5,398.7 L644.5,398.8 L645.5,399.1 L646.5,399.9 L647.5,399.3 L648.5,399.6 L649.5,398.2 L650.5,398.2 L651.5,400.4 L652.5,400.8 L653.5,400.2 L654.5,400.0 L655.5,400.0 L656.5,399.8 L657.5,401.3 L658.5,401.1 L659.5,401.0 L660.5,401.1 L661.5,401.7 L662.5,401.6 L663.5,401.5 L664.5,400.6 L665.5,401.9 L666.5,403.1 L667.5,401.5 L668.5,401.7 L669.5,402.7 L670.5,402.9 L671.5,402.5 L672.5,401.3 L673.5,402.4 L674.5,401.6 L675.5,402.0 L676.5,403.0 L677.5,402.9 L678.5,404.0 L679.5,405.7 L680.5,404.4 L681.5,403.9 L682.5,402.9 L683.5,402.9 L684.5,402.8 L685.5,403.2 L686.5,403.0 L687.5,403.3 L688.5,403.6 L689.5,403.1 L690.5,402.6 L691.5,402.7 L692.5,403.8 L693.5,403.7 L694.5,404.2 L695.5,404.0 L696.5,402.9 L697.5,403.1 L698.5,402.2 L699.5,404.5 L700.5,404.1 L701.5,403.1 L702.5,402.7 L703.5,403.7 L704.5,402.9 L705.5,404.0 L706.5,405.6 L707.5,405.6 L708.5,405.7 L709.5,406.8 L710.5,406.0 L711.5,406.8 L712.5,406.5 L713.5,406.6 L714.5,407.4 L715.5,407.1 L716.5,408.9 L717.5,408.0 L718.5,409.2 L719.5,407.7 L720.5,408.4 L721.5,407.5 L722.5,407.5 L723.5,408.7 L724.5,409.1 L725.5,408.2 L726.5,409.5 L727.5,408.7 L728.5,409.2 L729.5,409.6 L730.5,409.5 L731.5,408.3 L732.5,410.4 L733.5,410.0 L734.5,409.1 L735.5,408.5 L736.5,408.0 L737.5,408.5 L738.5,409.8 L739.5,409.4 L740.5,408.8 L741.5,409.5 L742.5,410.9 L743.5,409.9 L744.5,409.8 L745.5,411.1 L746.5,410.8 L747.5,410.4 L748.5,409.8 L749.5,409.2 L750.5,409.6 L751.5,410.3 L752.5,410.7 L753.5,411.3 L754.5,411.6 L755.5,411.5 L756.5,411.4 L757.5,410.5 L758.5,409.8 L759.5,410.8 L760.5,410.9 L761.5,411.2 L762.5,411.5 L763.5,411.0 L764.5,411.2 L765.5,412.0 L766.5,412.3 L767.5,412.1 L768.5,412.8 L769.5,412.4 L770.5,412.0 L771.5,413.0 L772.5,414.3 L773.5,413.0 L774.5,414.2 L775.5,414.7 L776.5,414.6 L777.5,413.5 L778.5,415.0 L779.5,414.1 L780.5,413.7 L781.5,414.0 L782.5,414.6 L783.5,414.4 L784.5,414.5 L785.5,415.4" stroke="#5c3e80"/>
<path d="M108.5,318.1 L109.5,318.2 L110.5,318.6 L111.5,317.2 L112.5,316.9 L113.5,317.9 L114.5,318.0 L115.5,315.6 L116.5,314.0 L117.5,314.4 L118.5,314.7 L119.5,315.2 L120.5,315.5 L121.5,314.7 L122.5,313.9 L123.5,314.0 L124.5,313.1 L125.5,313.3 L126.5,313.1 L127.5,314.9 L128.5,313.4 L129.5,311.6 L130.5,311.0 L131.5,310.9 L132.5,309.9 L133.5,310.1 L134.5,310.1 L135.5,310.8 L136.5,309.6 L137.5,308.7 L138.5,307.8 L139.5,307.6 L140.5,307.9 L141.5,307.6 L142.5,307.8 L143.5,306.3 L144.5,306.6 L145.5,305.5 L146.5,304.2 L147.5,302.1 L148.5,301.9 L149.5,303.0 L150.5,303.0 L151.5,301.8 L152.5,301.3 L153.5,300.1 L154.5,299.4 L155.5,298.9 L156.5,299.5 L157.5,298.7 L158.5,297.7 L159.5,297.1 L160.5,297.2 L161.5,296.5 L162.5,295.4 L163.5,296.4 L164.5,295.0 L165.5,294.3 L166.5,294.6 L167.5,293.7 L168.5,292.2 L169.5,291.6 L170.5,289.7 L171.5,288.8 L172.5,287.3 L173.5,288.3 L174.5,286.0 L175.5,286.4 L176.5,284.7 L177.5,283.5 L178.5,283.2 L179.5,282.8 L180.5,282.5 L181.5,282.6 L182.5,281.2 L183.5,280.7 L184.5,279.2 L185.5,279.2 L186.5,277.6 L187.5,275.5 L188.5,274.0 L189.5,272.6 L190.5,271.6 L191.5,270.6 L192.5,268.9 L193.5,267.7 L194.5,267.3 L195.5,264.6 L196.5,264.0 L197.5,263.7 L198.5,259.7 L199.5,259.4 L200.5,258.9 L201.5,256.6 L202.5,257.2 L203.5,253.0 L204.5,253.6 L205.5,252.3 L206.5,249.6 L207.5,246.7 L208.5,245.0 L209.5,242.7 L210.5,242.0 L211.5,239.5 L212.5,238.6 L213.5,237.8 L214.5,235.1 L215.5,234.1 L216.5,232.9 L217.5,230.7 L218.5,230.5 L219.5,228.1 L220.5,224.7 L221.5,223.1 L222.5,220.4 L223.5,218.1 L224.5,216.0 L225.5,211.9 L226.5,205.9 L227.5,203.6 L228.5,208.3 L229.5,212.2 L230.5,214.0 L231.5,213.9 L232.5,214.1 L233.5,213.8 L234.5,214.9 L235.5,215.2 L236.5,215.7 L237.5,214.7 L238.5,213.4 L239.5,212.7 L240.5,212.7 L241.5,212.4 L242.5,213.1 L243.5,212.4 L244.5,210.8 L245.5,210.6 L246.5,211.7 L247.5,210.8 L248.5,210.1 L249.5,210.4 L250.5,208.9 L251.5,208.0 L252.5,207.0 L253.5,205.5 L254.5,206.4 L255.5,204.7 L256.5,204.3 L257.5,204.0 L258.5,204.7 L259.5,204.1 L260.5,203.6 L261.5,202.4 L262.5,202.9 L263.5,202.2 L264.5,203.2 L265.5,203.2 L266.5,203.1 L267.5,204.1 L268.5,202.9 L269.5,202.4 L270.5,201.6 L271.5,201.0 L272.5,201.4 L273.5,200.9 L274.5,199.0 L275.5,200.0 L276.5,199.6 L277.5,199.4 L278.5,198.5 L279.5,196.9 L280.5,196.7 L281.5,198.4 L282.5,197.1 L283.5,195.6 L284.5,196.3 L285.5,195.6 L286.5,194.1 L287.5,193.4 L288.5,193.8 L289.5,195.0 L290.5,194.8 L291.5,194.5 L292.5,194.7 L293.5,194.5 L294.5,192.7 L295.5,193.5 L296.5,193.2 L297.5,192.9 L298.5,193.4 L299.5,193.8 L300.5,193.6 L301.5,192.9 L302.5,193.9 L303.5,195.6 L304.5,193.8 L305.5,193.4 L306.5,195.1 L307.5,195.9 L308.5,196.0 L309.5,195.4 L310.5,196.9 L311.5,196.2 L312.5,196.2 L313.5,197.0 L314.5,197.9 L315.5,199.0 L316.5,199.4 L317.5,199.4 L318.5,200.3 L319.5,200.3 L320.5,200.9 L321.5,199.7 L322.5,200.0 L323.5,201.9 L324.5,201.3 L325.5,202.3 L326.5,203.0 L327.5,203.3 L328.5,204.1 L329.5,205.4 L330.5,203.8 L331.5,206.6 L332.5,208.5 L333.5,207.6 L334.5,208.1 L335.5,209.4 L336.5,210.5 L337.5,209.1 L338.5,210.1 L339.5,210.7 L340.5,211.7 L341.5,212.0 L342.5,212.7 L343.5,212.4 L344.5,212.9 L345.5,212.8 L346.5,213.1 L347.5,213.9 L348.5,214.2 L349.5,214.2 L350.5,216.4 L351.5,216.0 L352.5,216.1 L353.5,218.5 L354.5,218.6 L355.5,219.9 L356.5,220.3 L357.5,220.5 L358.5,220.3 L359.5,219.6 L360.5,220.0 L361.5,220.6 L362.5,217.4 L363.5,216.9 L364.5,215.4 L365.5,212.9 L366.5,213.2 L367.5,217.3 L368.5,218.7 L369.5,223.4 L370.5,225.9 L371.5,227.6 L372.5,229.8 L373.5,231.7 L374.5,233.4 L375.5,234.0 L376.5,234.6 L377.5,235.6 L378.5,237.2 L379.5,237.4 L380.5,236.9 L381.5,237.9 L382.5,239.3 L383.5,239.6 L384.5,240.3 L385.5,240.6 L386.5,241.7 L387.5,242.8 L388.5,243.5 L389.5,243.4 L390.5,244.8 L391.5,244.4 L392.5,246.6 L393.5,246.1 L394.5,246.1 L395.5,245.9 L396.5,245.3 L397.5,247.8 L398.5,249.7 L399.5,251.5 L400.5,250.6 L401.5,252.7 L402.5,251.6 L403.5,251.0 L404.5,248.4 L405.5,248.9 L406.5,248.2 L407.5,248.1 L408.5,247.3 L409.5,247.2 L410.5,250.8 L411.5,253.8 L412.5,256.2 L413.5,257.9 L414.5,259.0 L415.5,259.0 L416.5,258.8 L417.5,259.8 L418.5,262.6 L419.5,263.4 L420.5,263.6 L421.5,264.1 L422.5,265.1 L423.5,265.9 L424.5,266.3 L425.5,267.0 L426.5,269.3 L427.5,268.7 L428.5,268.3 L429.5,268.4 L430.5,269.7 L431.5,271.7 L432.5,272.7 L433.5,272.8 L434.5,273.5 L435.5,273.8 L436.5,274.2 L437.5,276.3 L438.5,276.9 L439.5,278.4 L440.5,277.0 L441.5,277.7 L442.5,278.9 L443.5,278.6 L444.5,278.2 L445.5,279.0 L446.5,280.4 L447.5,281.1 L448.5,281.5 L449.5,282.7 L450.5,283.2 L451.5,283.2 L452.5,283.3 L453.5,283.6 L454.5,284.7 L455.5,285.4 L456.5,285.3 L457.5,285.7 L458.5,285.5 L459.5,285.1 L460.5,285.9 L461.5,287.6 L462.5,288.2 L463.5,289.2 L464.5,288.8 L465.5,289.6 L466.5,290.5 L467.5,290.5 L468.5,289.7 L469.5,290.3 L470.5,290.8 L471.5,290.6 L472.5,292.0 L473.5,292.8 L474.5,292.6 L475.5,294.2 L476.5,293.3 L477.5,293.5 L478.5,293.8 L479.5,294.0 L480.5,295.1 L481.5,295.5 L482.5,296.9 L483.5,296.7 L484.5,296.7 L485.5,296.4 L486.5,295.9 L487.5,297.0 L488.5,297.2 L489.5,298.6 L490.5,298.7 L491.5,300.1 L492.5,300.0 L493.5,300.2 L494.5,300.1 L495.5,300.5 L496.5,301.2 L497.5,301.6 L498.5,301.0 L499.5,302.4 L500.5,304.1 L501.5,302.8 L502.5,302.6 L503.5,302.6 L504.5,302.8 L505.5,304.8 L506.5,304.8 L507.5,305.5 L508.5,307.2 L509.5,307.8 L510.5,306.1 L511.5,307.4 L512.5,307.7 L513.5,307.9 L514.5,308.2 L515.5,308.5 L516.5,309.9 L517.5,309.8 L518.5,309.9 L519.5,310.9 L520.5,311.1 L521.5,311.1 L522.5,311.6 L523.5,312.8 L524.5,312.4 L525.5,312.1 L526.5,311.9 L527.5,312.5 L528.5,312.6 L529.5,313.7 L530.5,314.1 L531.5,313.1 L532.5,314.8 L533.5,315.8 L534.5,315.8 L535.5,315.6 L536.5,317.2 L537.5,316.4 L538.5,316.1 L539.5,316.6 L540.5,317.9 L541.5,319.2 L542.5,319.7 L543.5,319.2 L544.5,318.4 L545.5,318.9 L546.5,319.2 L547.5,319.8 L548.5,319.3 L549.5,320.8 L550.5,321.7 L551.5,321.5 L552.5,322.0 L553.5,321.2 L554.5,321.1 L555.5,322.2 L556.5,323.9 L557.5,324.1 L558.5,323.6 L559.5,324.7 L560.5,324.4 L561.5,325.7 L562.5,325.3 L563.5,325.0 L564.5,325.8 L565.5,325.1 L566.5,325.0 L567.5,325.2 L568.5,326.6 L569.5,327.0 L570.5,327.2 L571.5,327.6 L572.5,329.0 L573.5,328.2 L574.5,328.5 L575.5,330.4 L576.5,331.2 L577.5,330.7 L578.5,329.8 L579.5,330.9 L580.5,332.2 L581.5,332.4 L582.5,333.3 L583.5,331.9 L584.5,333.0 L585.5,332.8 L586.5,334.1 L587.5,333.6 L588.5,334.2 L589.5,333.1 L590.5,332.5 L591.5,332.9 L592.5,333.4 L593.5,333.6 L594.5,335.4 L595.5,335.8 L596.5,335.0 L597.5,334.3 L598.5,334.9 L599.5,335.2 L600.5,336.8 L601.5,336.6 L602.5,336.7 L603.5,336.3 L604.5,335.5 L605.5,336.6 L606.5,337.1 L607.5,338.6 L608.5,338.9 L609.5,338.7 L610.5,339.5 L611.5,341.1 L612.5,339.9 L613.5,340.1 L614.5,340.9 L615.5,341.2 L616.5,341.8 L617.5,343.2 L618.5,344.1 L619.5,342.4 L620.5,343.6 L621.5,344.3 L622.5,344.5 L623.5,344.8 L624.5,345.2 L625.5,346.3 L626.5,345.7 L627.5,346.0 L628.5,346.4 L629.5,346.7 L630.5,346.9 L631.5,347.8 L632.5,347.5 L633.5,347.7 L634.5,347.6 L635.5,347.1 L636.5,347.2 L637.5,347.4 L638.5,348.4 L639.5,348.0 L640.5,348.0 L641.5,349.1 L642.5,349.4 L643.5,348.4 L644.5,350.6 L645.5,350.0 L646.5,350.1 L647.5,350.9 L648.5,350.5 L649.5,350.4 L650.5,352.1 L651.5,350.4 L652.5,350.9 L653.5,351.7 L654.5,350.7 L655.5,351.4 L656.5,352.4 L657.5,353.6 L658.5,351.8 L659.5,352.2 L660.5,352.9 L661.5,352.6 L662.5,352.0 L663.5,353.1 L664.5,353.3 L665.5,353.8 L666.5,354.5 L667.5,354.6 L668.5,354.3 L669.5,354.1 L670.5,353.3 L671.5,354.0 L672.5,354.4 L673.5,354.2 L674.5,354.5 L675.5,354.3 L676.5,356.1 L677.5,356.7 L678.5,355.1 L679.5,355.3 L680.5,355.3 L681.5,356.3 L682.5,355.9 L683.5,355.6 L684.5,355.4 L685.5,355.6 L686.5,355.1 L687.5,356.1 L688.5,355.6 L689.5,356.3 L690.5,356.5 L691.5,357.1 L692.5,356.6 L693.5,357.0 L694.5,356.1 L695.5,356.9 L696.5,356.7 L697.5,356.9 L698.5,357.1 L699.5,357.4 L700.5,355.8 L701.5,357.0 L702.5,356.4 L703.5,357.8 L704.5,356.1 L705.5,356.4 L706.5,356.7 L707.5,358.7 L708.5,357.4 L709.5,358.1 L710.5,357.7 L711.5,357.1 L712.5,358.3 L713.5,359.2 L714.5,359.1 L715.5,359.7 L716.5,359.1 L717.5,359.3 L718.5,359.3 L719.5,360.2 L720.5,361.3 L721.5,360.5 L722.5,360.2 L723.5,359.6 L724.5,359.9 L725.5,361.2 L726.5,359.8 L727.5,359.8 L728.5,360.5 L729.5,360.8 L730.5,362.0 L731.5,359.7 L732.5,361.3 L733.5,361.7 L734.5,360.6 L735.5,361.0 L736.5,362.1 L737.5,362.9 L738.5,361.2 L739.5,360.8 L740.5,362.8 L741.5,363.4 L742.5,361.9 L743.5,360.9 L744.5,363.2 L745.5,362.8 L746.5,363.5 L747.5,362.9 L748.5,362.5 L749.5,362.8 L750.5,364.3 L751.5,364.2 L752.5,361.8 L753.5,362.7 L754.5,364.6 L755.5,363.4 L756.5,362.7 L757.5,363.6 L758.5,363.9 L759.5,363.9 L760.5,363.7 L761.5,363.9 L762.5,364.0 L763.5,364.5 L764.5,364.0 L765.5,364.3 L766.5,364.8 L767.5,365.8 L768.5,365.3 L769.5,365.0 L770.5,365.5 L771.5,365.7 L772.5,366.1 L773.5,366.1 L774.5,366.9 L775.5,366.7 L776.5,365.6 L777.5,365.4 L778.5,366.3 L779.5,366.2 L780.5,365.5 L781.5,364.4 L782.5,364.3 L783.5,366.0 L784.5,366.7 L785.5,366.5" stroke="#2489a5"/>
<path d="M108.5,241.4 L109.5,241.3 L110.5,241.1 L111.5,241.8 L112.5,242.1 L113.5,240.6 L114.5,239.9 L115.5,238.6 L116.5,239.7 L117.5,239.3 L118.5,238.2 L119.5,239.6 L120.5,239.9 L121.5,238.8 L122.5,238.7 L123.5,238.4 L124.5,239.1 L125.5,237.7 L126.5,238.4 L127.5,239.8 L128.5,238.6 L129.5,238.4 L130.5,237.7 L131.5,236.9 L132.5,237.5 L133.5,237.6 L134.5,236.7 L135.5,237.4 L136.5,238.0 L137.5,237.4 L138.5,235.3 L139.5,235.0 L140.5,234.7 L141.5,236.2 L142.5,236.0 L143.5,235.5 L144.5,234.0 L145.5,233.4 L146.5,234.0 L147.5,233.8 L148.5,232.9 L149.5,233.3 L150.5,233.4 L151.5,232.7 L152.5,231.3 L153.5,230.3 L154.5,231.2 L155.5,231.5 L156.5,230.9 L157.5,230.5 L158.5,230.2 L159.5,230.8 L160.5,230.2 L161.5,229.8 L162.5,228.8 L163.5,228.8 L164.5,228.9 L165.5,227.8 L166.5,227.3 L167.5,227.8 L168.5,228.6 L169.5,227.9 L170.5,228.1 L171.5,226.7 L172.5,225.9 L173.5,224.8 L174.5,225.2 L175.5,226.2 L176.5,225.4 L177.5,225.2 L178.5,224.7 L179.5,223.8 L180.5,223.2 L181.5,223.0 L182.5,223.0 L183.5,222.5 L184.5,221.9 L185.5,221.0 L186.5,219.7 L187.5,219.3 L188.5,218.5 L189.5,218.8 L190.5,216.4 L191.5,217.1 L192.5,218.2 L193.5,215.8 L194.5,214.3 L195.5,214.5 L196.5,214.7 L197.5,213.2 L198.5,212.7 L199.5,211.7 L200.5,211.1 L201.5,212.5 L202.5,210.0 L203.5,208.5 L204.5,208.0 L205.5,208.1 L206.5,207.7 L207.5,207.2 L208.5,205.9 L209.5,204.2 L210.5,204.5 L211.5,203.2 L212.5,201.9 L213.5,200.1 L214.5,199.4 L215.5,198.3 L216.5,197.3 L217.5,195.2 L218.5,194.5 L219.5,192.9 L220.5,190.3 L221.5,188.5 L222.5,186.4 L223.5,184.2 L224.5,177.8 L225.5,173.6 L226.5,167.4 L227.5,161.9 L228.5,149.3 L229.5,145.3 L230.5,140.9 L231.5,138.5 L232.5,139.9 L233.5,140.4 L234.5,142.1 L235.5,138.8 L236.5,135.6 L237.5,139.0 L238.5,140.6 L239.5,142.3 L240.5,144.5 L241.5,145.8 L242.5,151.0 L243.5,161.6 L244.5,166.0 L245.5,170.3 L246.5,175.0 L247.5,176.1 L248.5,178.3 L249.5,179.1 L250.5,178.9 L251.5,178.2 L252.5,177.8 L253.5,176.6 L254.5,178.8 L255.5,178.4 L256.5,178.3 L257.5,177.8 L258.5,177.0 L259.5,177.7 L260.5,179.0 L261.5,179.6 L262.5,176.9 L263.5,173.9 L264.5,175.7 L265.5,175.7 L266.5,178.4 L267.5,177.7 L268.5,176.6 L269.5,176.9 L270.5,176.2 L271.5,173.7 L272.5,174.4 L273.5,173.0 L274.5,173.3 L275.5,172.1 L276.5,171.4 L277.5,173.1 L278.5,174.2 L279.5,175.3 L280.5,175.0 L281.5,173.8 L282.5,172.6 L283.5,171.8 L284.5,171.3 L285.5,170.5 L286.5,170.1 L287.5,168.7 L288.5,170.2 L289.5,170.7 L290.5,172.1 L291.5,170.9 L292.5,169.8 L293.5,170.0 L294.5,168.8 L295.5,168.8 L296.5,168.3 L297.5,170.3 L298.5,169.9 L299.5,168.6 L300.5,169.3 L301.5,170.1 L302.5,169.8 L303.5,169.5 L304.5,168.7 L305.5,168.8 L306.5,169.5 L307.5,170.1 L308.5,169.0 L309.5,168.9 L310.5,170.4 L311.5,169.6 L312.5,170.8 L313.5,170.7 L314.5,171.3 L315.5,172.0 L316.5,171.5 L317.5,171.3 L318.5,170.2 L319.5,170.5 L320.5,171.8 L321.5,172.8 L322.5,173.1 L323.5,173.6 L324.5,172.5 L325.5,172.4 L326.5,173.0 L327.5,172.6 L328.5,172.5 L329.5,172.2 L330.5,173.5 L331.5,172.7 L332.5,173.5 L333.5,172.8 L334.5,174.2 L335.5,173.4 L336.5,174.3 L337.5,173.1 L338.5,174.0 L339.5,175.2 L340.5,174.3 L341.5,174.7 L342.5,174.3 L343.5,173.4 L344.5,175.5 L345.5,176.2 L346.5,175.8 L347.5,176.9 L348.5,176.2 L349.5,176.2 L350.5,176.9 L351.5,177.0 L352.5,178.6 L353.5,176.6 L354.5,177.8 L355.5,177.7 L356.5,175.3 L357.5,174.8 L358.5,175.7 L359.5,174.8 L360.5,174.7 L361.5,174.5 L362.5,172.5 L363.5,169.9 L364.5,165.8 L365.5,161.3 L366.5,157.1 L367.5,155.3 L368.5,153.2 L369.5,151.6 L370.5,155.0 L371.5,154.2 L372.5,152.0 L373.5,150.4 L374.5,151.0 L375.5,151.6 L376.5,153.4 L377.5,156.4 L378.5,160.0 L379.5,162.4 L380.5,166.0 L381.5,171.5 L382.5,178.5 L383.5,183.5 L384.5,185.2 L385.5,189.1 L386.5,191.9 L387.5,194.2 L388.5,194.8 L389.5,194.8 L390.5,194.0 L391.5,194.4 L392.5,194.3 L393.5,195.0 L394.5,196.1 L395.5,197.6 L396.5,197.0 L397.5,196.5 L398.5,197.9 L399.5,197.5 L400.5,198.3 L401.5,199.1 L402.5,200.3 L403.5,200.7 L404.5,199.9 L405.5,199.5 L406.5,198.1 L407.5,198.7 L408.5,197.1 L409.5,196.8 L410.5,195.9 L411.5,196.5 L412.5,199.9 L413.5,200.1 L414.5,200.6 L415.5,200.9 L416.5,201.1 L417.5,199.9 L418.5,197.7 L419.5,198.5 L420.5,198.5 L421.5,200.9 L422.5,204.3 L423.5,204.9 L424.5,204.6 L425.5,204.4 L426.5,206.4 L427.5,207.7 L428.5,207.9 L429.5,207.8 L430.5,208.6 L431.5,209.2 L432.5,210.9 L433.5,212.1 L434.5,212.7 L435.5,212.0 L436.5,213.0 L437.5,213.7 L438.5,213.5 L439.5,214.4 L440.5,216.3 L441.5,215.7 L442.5,216.2 L443.5,215.8 L444.5,216.2 L445.5,215.6 L446.5,217.2 L447.5,218.8 L448.5,219.9 L449.5,219.7 L450.5,219.4 L451.5,219.1 L452.5,219.0 L453.5,219.6 L454.5,220.4 L455.5,220.0 L456.5,221.1 L457.5,220.1 L458.5,219.7 L459.5,220.3 L460.5,220.3 L461.5,221.0 L462.5,223.0 L463.5,222.7 L464.5,223.2 L465.5,224.2 L466.5,224.5 L467.5,223.7 L468.5,224.9 L469.5,224.7 L470.5,224.6 L471.5,224.8 L472.5,223.8 L473.5,224.4 L474.5,225.3 L475.5,226.0 L476.5,225.6 L477.5,226.1 L478.5,227.2 L479.5,227.8 L480.5,227.7 L481.5,227.9 L482.5,227.0 L483.5,227.1 L484.5,227.7 L485.5,227.5 L486.5,227.8 L487.5,229.3 L488.5,228.3 L489.5,227.9 L490.5,229.3 L491.5,230.4 L492.5,229.7 L493.5,230.2 L494.5,229.4 L495.5,229.3 L496.5,229.4 L497.5,230.2 L498.5,231.5 L499.5,230.2 L500.5,231.7 L501.5,230.4 L502.5,230.9 L503.5,232.0 L504.5,232.1 L505.5,231.8 L506.5,230.8 L507.5,232.0 L508.5,232.0 L509.5,234.2 L510.5,233.0 L511.5,232.9 L512.5,232.3 L513.5,232.7 L514.5,232.8 L515.5,234.4 L516.5,234.2 L517.5,234.7 L518.5,234.2 L519.5,234.7 L520.5,236.0 L521.5,234.8 L522.5,234.4 L523.5,235.9 L524.5,235.5 L525.5,236.2 L526.5,237.3 L527.5,236.7 L528.5,237.7 L529.5,237.3 L530.5,238.9 L531.5,239.0 L532.5,237.9 L533.5,238.0 L534.5,237.9 L535.5,238.9 L536.5,239.6 L537.5,238.4 L538.5,239.6 L539.5,238.6 L540.5,238.7 L541.5,238.8 L542.5,241.4 L543.5,240.7 L544.5,240.6 L545.5,240.4 L546.5,241.3 L547.5,239.7 L548.5,241.4 L549.5,243.1 L550.5,241.7 L551.5,242.0 L552.5,242.5 L553.5,241.8 L554.5,242.5 L555.5,243.4 L556.5,243.2 L557.5,243.4 L558.5,243.1 L559.5,243.7 L560.5,244.0 L561.5,245.1 L562.5,244.8 L563.5,243.9 L564.5,242.8 L565.5,245.0 L566.5,245.4 L567.5,244.2 L568.5,243.5 L569.5,244.5 L570.5,246.0 L571.5,245.1 L572.5,245.6 L573.5,246.5 L574.5,247.4 L575.5,246.8 L576.5,246.8 L577.5,247.0 L578.5,248.6 L579.5,248.6 L580.5,247.7 L581.5,246.9 L582.5,247.5 L583.5,248.6 L584.5,248.3 L585.5,249.4 L586.5,249.4 L587.5,249.5 L588.5,249.9 L589.5,249.8 L590.5,249.1 L591.5,249.8 L592.5,251.5 L593.5,249.6 L594.5,250.0 L595.5,251.3 L596.5,250.7 L597.5,250.2 L598.5,250.2 L599.5,251.7 L600.5,252.6 L601.5,253.0 L602.5,252.4 L603.5,252.8 L604.5,251.8 L605.5,252.5 L606.5,252.4 L607.5,253.1 L608.5,253.9 L609.5,254.1 L610.5,253.2 L611.5,254.5 L612.5,253.6 L613.5,253.3 L614.5,253.8 L615.5,253.4 L616.5,254.5 L617.5,255.0 L618.5,254.9 L619.5,255.5 L620.5,255.2 L621.5,255.2 L622.5,254.6 L623.5,255.5 L624.5,255.2 L625.5,255.6 L626.5,256.1 L627.5,256.2 L628.5,255.0 L629.5,255.1 L630.5,256.2 L631.5,257.1 L632.5,257.3 L633.5,257.8 L634.5,258.1 L635.5,257.6 L636.5,257.1 L637.5,256.4 L638.5,256.4 L639.5,257.0 L640.5,257.7 L641.5,257.8 L642.5,257.7 L643.5,257.8 L644.5,258.4 L645.5,258.3 L646.5,258.4 L647.5,258.4 L648.5,257.9 L649.5,257.7 L650.5,258.9 L651.5,259.1 L652.5,258.7 L653.5,258.9 L654.5,260.5 L655.5,258.8 L656.5,258.9 L657.5,259.2 L658.5,258.5 L659.5,259.5 L660.5,260.8 L661.5,259.9 L662.5,258.9 L663.5,258.0 L664.5,257.4 L665.5,257.4 L666.5,256.4 L667.5,256.0 L668.5,256.5 L669.5,257.1 L670.5,256.9 L671.5,256.8 L672.5,255.5 L673.5,257.8 L674.5,259.2 L675.5,258.7 L676.5,257.7 L677.5,257.6 L678.5,258.7 L679.5,259.0 L680.5,260.8 L681.5,261.0 L682.5,262.3 L683.5,262.4 L684.5,260.4 L685.5,261.6 L686.5,261.1 L687.5,260.6 L688.5,261.1 L689.5,261.7 L690.5,262.2 L691.5,260.7 L692.5,262.2 L693.5,262.9 L694.5,261.2 L695.5,259.0 L696.5,256.9 L697.5,255.4 L698.5,255.9 L699.5,256.0 L700.5,256.9 L701.5,258.6 L702.5,257.9 L703.5,257.9 L704.5,258.6 L705.5,256.9 L706.5,257.0 L707.5,257.8 L708.5,258.4 L709.5,259.8 L710.5,260.3 L711.5,262.5 L712.5,263.1 L713.5,262.8 L714.5,262.3 L715.5,263.2 L716.5,263.5 L717.5,262.6 L718.5,263.6 L719.5,264.2 L720.5,264.2 L721.5,265.3 L722.5,265.1 L723.5,263.8 L724.5,264.3 L725.5,264.0 L726.5,264.9 L727.5,264.4 L728.5,265.6 L729.5,265.6 L730.5,265.9 L731.5,265.1 L732.5,264.5 L733.5,266.5 L734.5,265.8 L735.5,266.6 L736.5,266.2 L737.5,266.5 L738.5,267.2 L739.5,266.4 L740.5,266.6 L741.5,265.0 L742.5,266.2 L743.5,265.8 L744.5,265.7 L745.5,265.9 L746.5,266.4 L747.5,267.0 L748.5,264.9 L749.5,265.7 L750.5,265.7 L751.5,266.8 L752.5,266.0 L753.5,266.4 L754.5,266.1 L755.5,266.8 L756.5,267.1 L757.5,266.2 L758.5,266.2 L759.5,265.5 L760.5,266.7 L761.5,267.2 L762.5,266.6 L763.5,267.3 L764.5,265.3 L765.5,265.1 L766.5,265.7 L767.5,266.6 L768.5,267.1 L769.5,267.2 L770.5,267.4 L771.5,267.8 L772.5,267.0 L773.5,266.4 L774.5,266.8 L775.5,268.7 L776.5,266.3 L777.5,267.5 L778.5,269.0 L779.5,268.4 L780.5,267.5 L781.5,268.1 L782.5,268.9 L783.5,269.1 L784.5,267.9 L785.5,268.8" stroke="#d67626"/>
</g>
<text x="83.90" y="590.40" text-anchor="end" style="font-size:25.2px;letter-spacing:0.55px">0.0</text>
<text x="83.90" y="502.40" text-anchor="end" style="font-size:25.2px;letter-spacing:0.55px">1.0</text>
<text x="83.90" y="414.40" text-anchor="end" style="font-size:25.2px;letter-spacing:0.55px">2.0</text>
<text x="83.90" y="327.40" text-anchor="end" style="font-size:25.2px;letter-spacing:0.55px">3.0</text>
<text x="83.90" y="239.40" text-anchor="end" style="font-size:25.2px;letter-spacing:0.55px">4.0</text>
<text x="83.90" y="152.40" text-anchor="end" style="font-size:25.2px;letter-spacing:0.55px">5.0</text>
<text x="83.90" y="64.40" text-anchor="end" style="font-size:25.2px;letter-spacing:0.55px">6.0</text>
<text x="109.18" y="625.40" text-anchor="middle" style="font-size:25.2px;letter-spacing:0.55px">15.0</text>
<text x="245.18" y="625.40" text-anchor="middle" style="font-size:25.2px;letter-spacing:0.55px">18.0</text>
<text x="380.17" y="625.40" text-anchor="middle" style="font-size:25.2px;letter-spacing:0.55px">21.0</text>
<text x="516.17" y="625.40" text-anchor="middle" style="font-size:25.2px;letter-spacing:0.55px">24.0</text>
<text x="651.17" y="625.40" text-anchor="middle" style="font-size:25.2px;letter-spacing:0.55px">27.0</text>
<text x="786.17" y="625.40" text-anchor="middle" style="font-size:25.2px;letter-spacing:0.55px">30.0</text>
<text transform="translate(232.62,81.00) rotate(-90)" x="0" y="0" textLength="77.08" lengthAdjust="spacingAndGlyphs" style="font-size:33.98px">(220)</text>
<text transform="translate(373.87,97.00) rotate(-90)" x="0" y="0" textLength="78.12" lengthAdjust="spacingAndGlyphs" style="font-size:33.73px">(331)</text>
<text transform="translate(441.07,156.00) rotate(-90)" x="0" y="0" textLength="78.09" lengthAdjust="spacingAndGlyphs" style="font-size:35.63px">(222)</text>
<text transform="translate(705.62,199.00) rotate(-90)" x="0" y="0" textLength="78.14" lengthAdjust="spacingAndGlyphs" style="font-size:36.15px">(420)</text>
<text transform="translate(22.33,462.00) rotate(-90)" x="0" y="0" textLength="203.02" lengthAdjust="spacingAndGlyphs" style="font-size:26.49px;font-weight:bold;stroke:none">Relative Intensity</text>
<text x="414.10" y="666.45" textLength="63.99" lengthAdjust="spacingAndGlyphs" style="font-size:23.04px;font-weight:bold;stroke:none">2&#952; (&#176;)</text>
<text x="895.00" y="267.05" textLength="73.22" lengthAdjust="spacingAndGlyphs" style="font-size:21.99px;stroke:none">5% C60</text>
<text x="895.00" y="310.05" textLength="71.15" lengthAdjust="spacingAndGlyphs" style="font-size:21.99px;stroke:none">1% C60</text>
<text x="895.00" y="351.35" textLength="89.16" lengthAdjust="spacingAndGlyphs" style="font-size:21.96px;stroke:none">0.5% C60</text>
<text x="896.00" y="393.70" textLength="104.07" lengthAdjust="spacingAndGlyphs" style="font-size:21.34px;stroke:none">1%EO3C60</text>
<text x="895.00" y="435.35" textLength="127.03" lengthAdjust="spacingAndGlyphs" style="font-size:21.96px;stroke:none">0.5% EO3C60</text>
<text x="895.00" y="476.65" textLength="71.59" lengthAdjust="spacingAndGlyphs" style="font-size:21.27px;stroke:none">Control</text>
<line x1="846" y1="261.1" x2="892" y2="261.1" stroke="#d67626" stroke-width="2"/>
<line x1="846" y1="303.0" x2="892" y2="303.0" stroke="#2489a5" stroke-width="2"/>
<line x1="846" y1="344.9" x2="892" y2="344.9" stroke="#5c3e80" stroke-width="2"/>
<line x1="846" y1="386.8" x2="892" y2="386.8" stroke="#7a9c3a" stroke-width="2"/>
<line x1="846" y1="428.7" x2="892" y2="428.7" stroke="#a0292b" stroke-width="2"/>
<line x1="846" y1="470.6" x2="892" y2="470.6" stroke="#2a5b97" stroke-width="2"/>
</svg>
</body></html>
